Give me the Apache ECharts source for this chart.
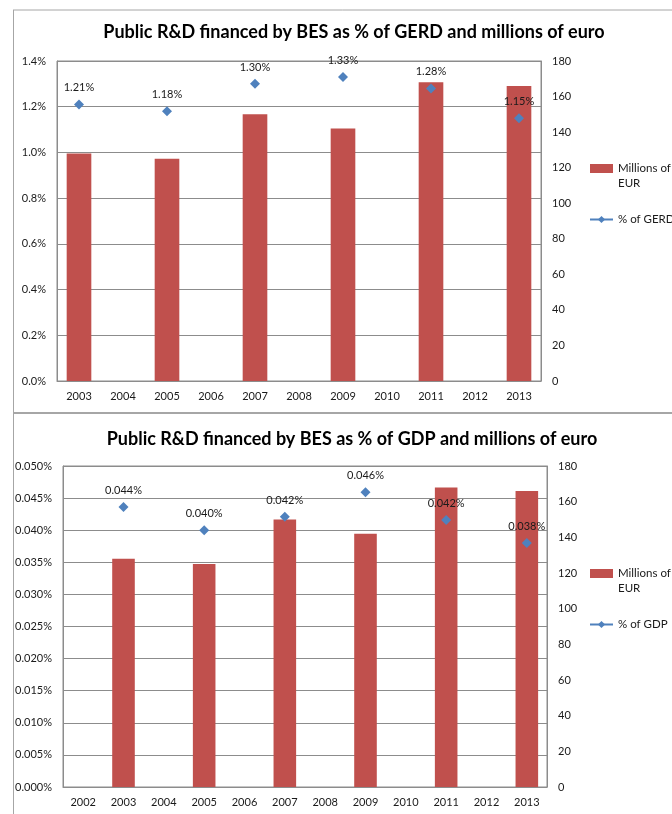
<!DOCTYPE html>
<html>
<head>
<meta charset="utf-8">
<script src="https://cdn.jsdelivr.net/npm/echarts@6/dist/echarts.min.js"></script>
<style>
html,body{margin:0;padding:0;background:#fff;}
#c{width:672px;height:814px;}
</style>
</head>
<body>
<div id="c"></div>
<script>
// Chart 1 data
var years1 = ['2003','2004','2005','2006','2007','2008','2009','2010','2011','2012','2013'];
var eur1 = [128, null, 125, null, 150, null, 142, null, 168, null, 166];
var pctGerd = [1.21, null, 1.18, null, 1.30, null, 1.33, null, 1.28, null, 1.15];
var leftTicks1 = {min: 0, max: 1.4, interval: 0.2};

// Chart 2 data
var years2 = ['2002','2003','2004','2005','2006','2007','2008','2009','2010','2011','2012','2013'];
var eur2 = [null, 128, null, 125, null, 150, null, 142, null, 168, null, 166];
var pctGdp = [null, 0.0436, null, 0.0400, null, 0.0421, null, 0.0459, null, 0.0416, null, 0.0380];
var leftTicks2 = {min: 0, max: 0.05, interval: 0.005};

var rightTicks = {min: 0, max: 180, interval: 20};

var FONT = 'Lato, "Open Sans", sans-serif';
var RED = '#C0504D', BLUE = '#4F81BD', GRID = '#8C8C8C', TXT = '#1a1a1a';

function catAxis(idx, data) {
  return {
    type: 'category', gridIndex: idx, data: data, boundaryGap: true,
    axisLine: {show: true, lineStyle: {color: GRID}},
    axisTick: {show: false},
    axisLabel: {color: TXT, fontSize: 11, fontFamily: FONT, margin: 10}
  };
}
function leftAxis(idx, t, dec) {
  return {
    type: 'value', gridIndex: idx, position: 'left', min: t.min, max: t.max, interval: t.interval,
    axisLine: {show: true, lineStyle: {color: GRID}},
    axisTick: {show: false},
    splitLine: {show: true, lineStyle: {color: GRID, width: 1}},
    axisLabel: {color: TXT, fontSize: 11, fontFamily: FONT, margin: 11,
      formatter: function (v) { return v.toFixed(dec) + '%'; }}
  };
}
function rightAxis(idx) {
  return {
    type: 'value', gridIndex: idx, position: 'right', min: rightTicks.min, max: rightTicks.max, interval: rightTicks.interval,
    axisLine: {show: true, lineStyle: {color: GRID}},
    axisTick: {show: false},
    splitLine: {show: false},
    axisLabel: {color: TXT, fontSize: 11, fontFamily: FONT, margin: 11}
  };
}
function legendFor(top, lineName) {
  return {
    orient: 'vertical', left: 584, top: top, itemWidth: 23, itemHeight: 9, itemGap: 21,
    data: [
      {name: 'Millions of EUR', icon: 'rect'},
      {name: lineName}
    ],
    formatter: function (n) { return n === 'Millions of EUR' ? ' \nMillions of\nEUR' : n; },
    textStyle: {fontFamily: FONT, fontSize: 11.5, color: TXT, lineHeight: 15}
  };
}

var chart = echarts.init(document.getElementById('c'));
chart.setOption({
  backgroundColor: '#fff',
  animation: false,
  title: [
    {text: 'Public R&D financed by BES as % of GERD and millions of euro', left: 349, top: 18, textAlign: 'center',
     textStyle: {fontFamily: FONT, fontWeight: 'bold', fontSize: 18, color: '#000'}},
    {text: 'Public R&D financed by BES as % of GDP and millions of euro', left: 347, top: 425, textAlign: 'center',
     textStyle: {fontFamily: FONT, fontWeight: 'bold', fontSize: 18, color: '#000'}}
  ],
  legend: [legendFor(141, '% of GERD'), legendFor(546, '% of GDP')],
  grid: [
    {left: 57, top: 61, width: 484, height: 320, show: true, borderColor: GRID, borderWidth: 1},
    {left: 63, top: 466, width: 484, height: 321, show: true, borderColor: GRID, borderWidth: 1}
  ],
  xAxis: [catAxis(0, years1), catAxis(1, years2)],
  yAxis: [leftAxis(0, leftTicks1, 1), rightAxis(0), leftAxis(1, leftTicks2, 3), rightAxis(1)],
  graphic: [
    {type: 'line', shape: {x1: 13, y1: 10, x2: 672, y2: 10}, style: {stroke: '#A6A6A6', lineWidth: 1}},
    {type: 'line', shape: {x1: 13.5, y1: 10, x2: 13.5, y2: 413}, style: {stroke: '#A6A6A6', lineWidth: 1}},
    {type: 'line', shape: {x1: 13, y1: 413, x2: 672, y2: 413}, style: {stroke: '#A6A6A6', lineWidth: 2}},
    {type: 'line', shape: {x1: 13.5, y1: 413, x2: 13.5, y2: 814}, style: {stroke: '#A6A6A6', lineWidth: 1}}
  ],
  series: [
    {name: 'Millions of EUR', type: 'bar', xAxisIndex: 0, yAxisIndex: 1, data: eur1, barWidth: '56%',
     itemStyle: {color: RED}},
    {name: '% of GERD', type: 'line', xAxisIndex: 0, yAxisIndex: 0, data: pctGerd,
     symbol: 'diamond', symbolSize: 10, connectNulls: false,
     itemStyle: {color: BLUE}, lineStyle: {color: BLUE, width: 2},
     label: {show: true, position: 'top', distance: 6, fontFamily: FONT, fontSize: 11, color: TXT,
       formatter: function (p) { return p.value.toFixed(2) + '%'; }}},
    {name: 'Millions of EUR', type: 'bar', xAxisIndex: 1, yAxisIndex: 3, data: eur2, barWidth: '56%',
     itemStyle: {color: RED}},
    {name: '% of GDP', type: 'line', xAxisIndex: 1, yAxisIndex: 2, data: pctGdp,
     symbol: 'diamond', symbolSize: 10, connectNulls: false,
     itemStyle: {color: BLUE}, lineStyle: {color: BLUE, width: 2},
     label: {show: true, position: 'top', distance: 6, fontFamily: FONT, fontSize: 11, color: TXT,
       formatter: function (p) { return p.value.toFixed(3) + '%'; }}}
  ]
});
</script>
</body>
</html>
